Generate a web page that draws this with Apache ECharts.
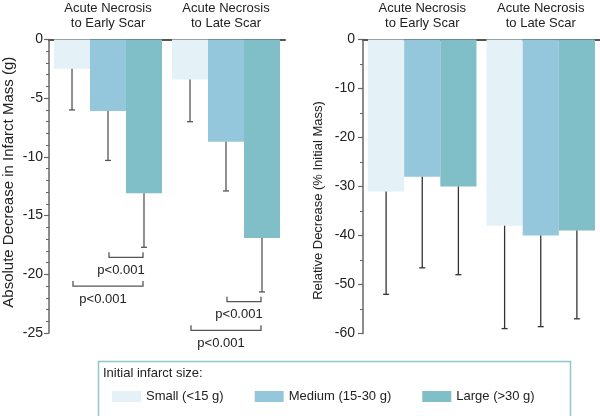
<!DOCTYPE html>
<html>
<head>
<meta charset="utf-8">
<script src="https://cdn.jsdelivr.net/npm/echarts@6/dist/echarts.min.js"></script>
<style>html,body{margin:0;padding:0;background:#fff}#c{width:600px;height:416px}</style>
</head>
<body>
<div id="c"></div>
<script>
const categories = ['Acute Necrosis\nto Early Scar', 'Acute Necrosis\nto Late Scar'];
const sizeNames = ['Small (<15 g)', 'Medium (15-30 g)', 'Large (>30 g)'];
const sizeColors = ['#e4f1f7', '#94c7dc', '#80bec8'];
const legendTitle = 'Initial infarct size:';
const leftAxisName = 'Absolute Decrease in Infarct Mass (g)';
const rightAxisName = 'Relative Decrease (% Initial Mass)';

// Absolute decrease (g): mean and lower end of error bar
const absSmall = [-2.5, -3.4];
const absSmallErr = [-6.0, -7.0];
const absMedium = [-6.1, -8.7];
const absMediumErr = [-10.3, -12.9];
const absLarge = [-13.1, -16.9];
const absLargeErr = [-17.7, -21.5];

// Relative decrease (% initial mass)
const relSmall = [-31, -38];
const relSmallErr = [-52, -59];
const relMedium = [-28, -40];
const relMediumErr = [-46.6, -58.6];
const relLarge = [-30, -39];
const relLargeErr = [-48, -57];

// significance brackets: [category, fromBar, toBar, level]
const brackets = [[0, 1, 2, -18.55], [0, 0, 2, -21.0], [1, 1, 2, -22.33], [1, 0, 2, -24.77]];
const pLabel = 'p<0.001';

const GAP = 0.085;
const FONT = "'Liberation Sans', Arial, Helvetica, sans-serif";

function errRender(barIdx, color) {
  return function (params, api) {
    const cat = api.value(0);
    const a = api.coord([cat, api.value(1)]);
    const b = api.coord([cat, api.value(2)]);
    const band = api.size([1, 0])[0];
    const bw = band * (1 - GAP) / 3;
    const x = a[0] + (barIdx - 1) * bw;
    const st = { stroke: color, lineWidth: 1.3 };
    return { type: 'group', children: [
      { type: 'line', shape: { x1: x, y1: a[1], x2: x, y2: b[1] }, style: st },
      { type: 'line', shape: { x1: x - 3, y1: b[1], x2: x + 3, y2: b[1] }, style: st }
    ]};
  };
}

function bracketRender(params, api) {
  const cat = api.value(0);
  const p = api.coord([cat, api.value(3)]);
  const band = api.size([1, 0])[0];
  const bw = band * (1 - GAP) / 3;
  const x1 = p[0] + (api.value(1) - 1) * bw + 1;
  const x2 = p[0] + (api.value(2) - 1) * bw - 1;
  const y = p[1];
  const st = { stroke: '#555', lineWidth: 1.3, fill: 'none' };
  return { type: 'group', children: [
    { type: 'polyline', shape: { points: [[x1, y - 5], [x1, y], [x2, y], [x2, y - 5]] }, style: st },
    { type: 'text', style: { text: pLabel, x: (x1 + x2) / 2 - 5, y: y + 13, align: 'center', verticalAlign: 'middle', textAlign: 'center', textVerticalAlign: 'middle', fontSize: 13, fontFamily: FONT, fill: '#222' } }
  ]};
}

function pairs(means, errs) { return means.map((m, i) => [i, m, errs[i]]); }

const absData = [[absSmall, absSmallErr], [absMedium, absMediumErr], [absLarge, absLargeErr]];
const relData = [[relSmall, relSmallErr], [relMedium, relMediumErr], [relLarge, relLargeErr]];

const series = [];
[[absData, 0, '#555'], [relData, 1, '#333']].forEach(([set, gi, ec]) => {
  set.forEach(([m, e], i) => {
    series.push({ type: 'bar', name: sizeNames[i], xAxisIndex: gi, yAxisIndex: gi, data: m,
      itemStyle: { color: sizeColors[i] }, barGap: '0%', barCategoryGap: (GAP * 100) + '%', silent: true, z: 2 });
  });
  set.forEach(([m, e], i) => {
    series.push({ type: 'custom', name: 'err' + gi + i, xAxisIndex: gi, yAxisIndex: gi, data: pairs(m, e),
      renderItem: errRender(i, ec), z: 5, silent: true });
  });
});
series.push({ type: 'custom', name: 'brackets', xAxisIndex: 0, yAxisIndex: 0, data: brackets, renderItem: bracketRender, z: 5, silent: true });

function xAx(gi) {
  return { type: 'category', gridIndex: gi, data: categories, position: 'top',
    axisLine: { show: true, lineStyle: { color: '#555', width: 2 } }, axisTick: { show: false },
    axisLabel: { margin: 9, fontSize: 13, lineHeight: 15, color: '#222', fontFamily: FONT } };
}
function yAx(gi, min, interval, minorSplit, name, gap, nameSize, namePad, labelMargin) {
  return { type: 'value', gridIndex: gi, min: min, max: 0, interval: interval,
    name: name, nameLocation: 'middle', nameGap: gap,
    nameTextStyle: { fontSize: nameSize, color: '#222', fontFamily: FONT, padding: namePad },
    axisLine: { show: true, lineStyle: { color: '#666', width: 1.5 } },
    axisTick: { show: true, length: 5, lineStyle: { color: '#666', width: 1.2 } },
    minorTick: { show: true, splitNumber: minorSplit, length: 3, lineStyle: { color: '#666', width: 1 } },
    splitLine: { show: false },
    axisLabel: { margin: labelMargin, fontSize: 14, color: '#222', fontFamily: FONT } };
}

const option = {
  animation: false,
  textStyle: { fontFamily: FONT },
  grid: [
    { left: 49, top: 39.5, width: 236, height: 293.5 },
    { left: 363, top: 39.5, width: 237, height: 294 }
  ],
  xAxis: [xAx(0), xAx(1)],
  yAxis: [
    yAx(0, -25, 5, 5, leftAxisName, 33, 15, [0, 0, 0, 8], 6),
    yAx(1, -60, 10, 2, rightAxisName, 38, 13, [0, 28, 0, 0], 8)
  ],
  legend: { data: sizeNames, left: 107, top: 385, itemWidth: 29, itemHeight: 11, itemGap: 31, icon: 'rect',
    selectedMode: false, textStyle: { fontSize: 13, color: '#222', fontFamily: FONT } },
  graphic: [
    { type: 'rect', left: 96, top: 359, shape: { width: 472, height: 56 }, style: { fill: 'none', stroke: '#8ec6cc', lineWidth: 1.5 } },
    { type: 'text', left: 103, top: 367, style: { text: legendTitle, fontSize: 13, fill: '#222', fontFamily: FONT } }
  ],
  series: series
};
echarts.init(document.getElementById('c')).setOption(option);
</script>
</body>
</html>
